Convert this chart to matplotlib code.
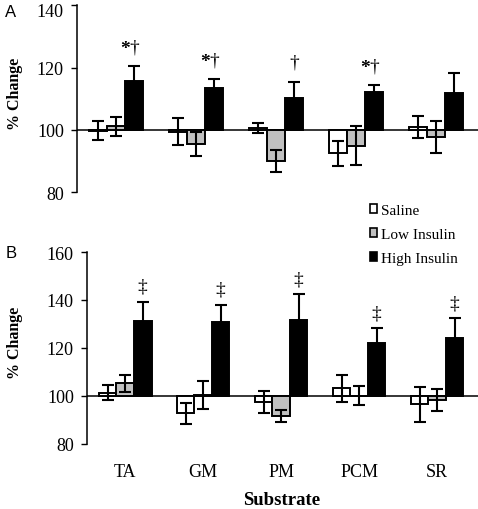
import matplotlib
matplotlib.use("Agg")
import matplotlib.pyplot as plt
import matplotlib.transforms as mtransforms
from matplotlib.patches import Patch
import numpy as np

plt.rcParams["font.family"] = ["Liberation Serif", "DejaVu Serif"]

substrates = ["TA", "GM", "PM", "PCM", "SR"]
groups = ["Saline", "Low Insulin", "High Insulin"]
colors = ["white", "#c0c0c0", "black"]

# panel A (% change)
a_saline = [99.8, 99.5, 100.5, 92.6, 100.9]
a_saline_err = [3.0, 4.2, 1.6, 4.0, 3.6]
a_low = [101.2, 95.6, 90.0, 95.0, 97.8]
a_low_err = [3.0, 3.8, 3.6, 6.2, 5.0]
a_high = [115.8, 113.3, 110.3, 112.1, 112.0]
a_high_err = [4.8, 3.0, 5.2, 2.3, 6.4]
a_marks = ["*\u2020", "*\u2020", "\u2020", "*\u2020", ""]

# panel B (% change)
b_saline = [101.4, 92.8, 97.5, 103.2, 96.5]
b_saline_err = [3.0, 4.3, 4.7, 5.5, 7.3]
b_low = [105.3, 100.4, 91.7, 100.2, 98.3]
b_low_err = [3.5, 5.7, 2.6, 3.8, 4.7]
b_high = [131.3, 130.8, 131.8, 122.1, 124.2]
b_high_err = [7.9, 7.2, 10.6, 6.1, 8.2]
b_marks = ["\u2021", "\u2021", "\u2021", "\u2021", "\u2021"]

W, H = 478, 510
fig = plt.figure(figsize=(W / 100, H / 100), dpi=100)


def px_axes(left, top, right, bottom):
    return fig.add_axes([left / W, 1 - bottom / H, (right - left) / W, (bottom - top) / H])


def draw_panel(ax, series, errs, marks, ylim, yticks, mark_off):
    x = np.arange(len(substrates))
    w = 0.225
    for k, (vals, err) in enumerate(zip(series, errs)):
        pos = x + (k - 1) * w
        heights = np.array(vals) - 100
        ax.bar(pos, heights, bottom=100, width=w, color=colors[k],
               edgecolor="black", linewidth=1.4, zorder=2)
        ax.errorbar(pos, vals, yerr=err, fmt="none", ecolor="black",
                    elinewidth=1.5, capsize=4.5, capthick=1.5, zorder=3)
    high, high_err = series[2], errs[2]
    for i, m in enumerate(marks):
        if not m:
            continue
        xy = (x[i] + w, high[i] + high_err[i])
        # dagger sits over the bar, the bold star just left of it
        ax.annotate(m[-1], xy, xytext=(0, mark_off), textcoords="offset points",
                    ha="center", va="baseline", fontsize=14)
        if m.startswith("*"):
            ax.annotate("*", xy, xytext=(-6.3, mark_off + 1.8), textcoords="offset points",
                        ha="center", va="center", fontsize=14, fontweight="bold")
    ax.axhline(100, color="black", lw=1.1, zorder=1)
    ax.set_xlim(-0.49, 4.525)
    ax.set_ylim(*ylim)
    ax.set_yticks(yticks)
    ax.tick_params(axis="y", labelsize=13, length=4.5, width=1, pad=5)
    ax.tick_params(axis="x", length=0)
    for s in ["top", "right", "bottom"]:
        ax.spines[s].set_visible(False)
    ax.spines["left"].set_linewidth(1.1)
    ax.patch.set_alpha(0)


axA = px_axes(77, 6, 478, 193.5)
draw_panel(axA, [a_saline, a_low, a_high], [a_saline_err, a_low_err, a_high_err],
           a_marks, (80, 140), [80, 100, 120, 140], 10.5)
axA.set_xticks([])
# top label in A sits a little below its tick in the original
top_lab = axA.get_yticklabels()[-1]
top_lab.set_transform(top_lab.get_transform() +
                      mtransforms.ScaledTranslation(0, -5 / 100, fig.dpi_scale_trans))

axB = px_axes(87, 253, 478, 445)
draw_panel(axB, [b_saline, b_low, b_high], [b_saline_err, b_low_err, b_high_err],
           b_marks, (80, 160), [80, 100, 120, 140, 160], 8)
axB.set_xticks(np.arange(len(substrates)))
axB.set_xticklabels(substrates, fontsize=13)
axB.tick_params(axis="x", pad=14)

fig.text(15 / W, 1 - 94 / H, "% Change", rotation=90, ha="center", va="center",
         fontsize=11.5, fontweight="bold")
fig.text(15 / W, 1 - 343 / H, "% Change", rotation=90, ha="center", va="center",
         fontsize=11.5, fontweight="bold")
fig.text(282 / W, 1 - 501 / H, "Substrate", ha="center", va="center",
         fontsize=13.5, fontweight="bold")
fig.text(11 / W, 1 - 12.5 / H, "A", ha="center", va="center", fontsize=12,
         family=["Liberation Sans", "DejaVu Sans"])
fig.text(11 / W, 1 - 254 / H, "B", ha="center", va="center", fontsize=12,
         family=["Liberation Sans", "DejaVu Sans"])

handles = [Patch(facecolor=c, edgecolor="black", linewidth=1.2) for c in colors]
fig.legend(handles, groups, loc="upper left", bbox_to_anchor=(370 / W, 1 - 205 / H),
           frameon=False, fontsize=11, handlelength=0.45, handleheight=0.45,
           handletextpad=0.3, labelspacing=0.72, borderpad=0, borderaxespad=0)

fig.savefig("out.png", dpi=100)
